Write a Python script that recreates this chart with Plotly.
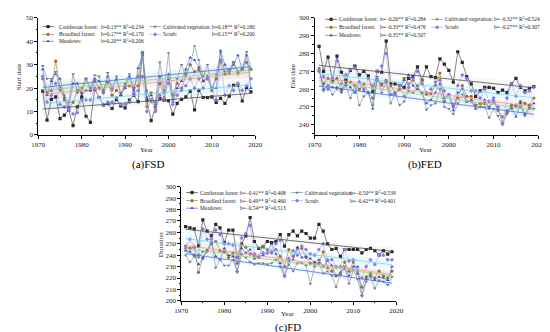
import numpy as np
import plotly.graph_objects as go

W, H = 550, 332
years = list(range(1971, 2020))
names = ["Coniferous forest", "Broadleaf forest", "Meadows", "Cultivated vegetation", "Scrub"]

# ---------------- (a) FSD: start date ----------------
fsd_conif = [18.7, 6.3, 15.2, 16.3, 7, 8.5, 10.7, 4, 12, 16, 8, 5.4, 19.5, 16, 12.8, 13.4, 11.3, 15.2, 12.4, 11.6,
             14.9, 17, 14.2, 35, 14.9, 6.1, 11.7, 15.6, 14.9, 14.6, 8.9, 13.5, 15.2, 16.3, 18.7, 10.7, 19, 16, 16, 16.3,
             13.9, 15.6, 13.5, 16.6, 21.2, 21.2, 14.5, 20.2, 18.4]
fsd_broad = [24, 18, 19, 31.5, 20, 15, 11, 14, 19, 18, 24, 19, 23, 20, 18, 22.5, 17, 19, 17, 21,
             21, 20, 21, 35, 12, 18, 11, 22, 16, 24, 17, 22, 19, 26, 30, 27, 28, 23, 24, 19,
             24, 32, 26, 27, 31, 27, 28, 31, 28]
fsd_mead = [28, 17, 23, 26, 24, 16, 12, 22, 22, 17, 19, 19, 24, 23, 19, 25, 20, 24, 17, 20,
            25, 19, 28.5, 34, 16, 17, 13, 25, 18, 26, 14, 20, 23, 28, 33, 32, 29, 23, 25, 20,
            20, 36, 30, 26, 30, 34, 28, 34, 20]
fsd_cult = [29.5, 24, 24, 27, 19, 17, 14, 26, 18, 20, 24, 20, 25.5, 25, 18, 26.5, 19, 25, 18, 22,
            26, 20, 25, 35.5, 19, 14, 14, 31, 19, 35, 15, 24, 30, 25, 30, 38, 32, 25, 30, 19,
            26, 35, 27, 28, 31, 26, 28, 35.5, 28]
fsd_scrub = [25, 14, 17, 22, 13, 12, 11, 9, 9.5, 15, 15, 15, 20, 16, 13, 14, 14, 16, 13, 13,
             14, 18, 19, 25, 10, 15, 10, 17, 15, 22, 13, 17, 20, 21, 24, 20, 24, 20, 24, 20,
             15, 31, 17, 21, 19, 22, 19, 21, 24]

# ---------------- (b) FED: end date ----------------
fed_conif = [284, 270, 278, 265, 278.5, 269.5, 265, 270.5, 273, 268, 270, 267.5, 258.5, 270, 269.5, 287, 263, 263, 262, 261,
             266, 267, 272.5, 265, 272.5, 267, 266.5, 277, 274, 270.5, 264, 281, 275, 267, 263, 256, 259, 261, 261, 260.5,
             258, 259.5, 258, 263, 266, 261, 259, 260.5, 261.5]
fed_broad = [270, 263, 266, 264, 266, 259, 264, 264, 262, 260, 263, 258, 255, 265, 263, 265, 262, 258, 260, 266,
             263, 265, 262, 265, 257, 257.5, 262, 269, 253, 257, 250, 255, 262, 256, 256, 251, 252, 252, 250, 253,
             248, 244.5, 247, 251, 251, 253, 252, 251, 255]
fed_mead = [271, 260, 262, 261, 261, 260, 263, 261, 258, 264, 259, 258, 249, 266, 262, 264, 257, 258, 260, 265,
            268, 262, 260, 258, 252, 254, 258, 263, 255, 257, 248, 258, 260, 253, 254, 249, 250, 254, 249, 254,
            249, 241, 248, 250, 244.5, 252, 246, 250, 252]
fed_cult = [272, 259, 262, 257, 260, 258, 262, 255, 262, 251, 256, 258, 251, 267, 258, 264, 252, 258, 251, 253,
            259, 258, 262, 258, 248.5, 251, 252, 260, 250, 249, 246, 252, 257, 253, 253, 249, 250, 250, 244, 249,
            245, 240, 246, 249, 250, 250, 245, 249, 249]
fed_scrub = [271, 267, 260, 266, 276, 263, 268, 271, 272, 264, 260, 266, 262, 270, 273, 280, 257, 257, 262, 256,
             261, 266, 270, 263, 258, 260, 264, 265, 259, 257, 251, 262, 268, 266, 259, 259, 255, 260, 253, 255,
             250, 241, 255, 263, 256, 262, 258, 259, 261]

# ---------------- (c) FD: duration ----------------
fd_conif = [265, 264, 263, 248, 271, 261, 257, 267, 264, 251, 262, 262, 238, 250, 257, 273, 252, 246, 247, 252,
            251, 252, 258, 248, 258, 261, 257, 261, 259, 255, 255, 267, 261, 250, 245, 246, 239, 245, 245, 245,
            245, 242, 245, 246, 244, 240, 244, 241, 243]
fd_broad = [248, 246, 247, 225, 238, 244, 250, 252, 244, 243, 238, 242, 233, 249, 247, 241, 240, 238, 248, 245,
            242, 245, 239, 230, 245, 239, 246, 246, 238, 233, 233, 233, 243, 229, 226, 222, 223, 234, 226, 234,
            224, 212, 221, 224, 220, 226, 222, 220, 226]
fd_mead = [244, 243, 240, 232, 237, 244, 251, 239, 236, 246, 240, 239, 226, 246, 242, 245, 237, 239, 240, 242,
           250, 241, 233, 222, 235, 236, 247, 238, 239, 237, 234, 236, 230, 235, 231, 222, 225, 228, 222, 230,
           230, 205, 219, 222, 218, 221, 220, 218, 230]
fd_cult = [240, 234, 239, 238, 243, 243, 252, 229, 236, 231, 231, 236, 225, 241, 238, 234, 232, 233, 233, 232,
           233, 236, 230, 221, 232, 226, 233, 233, 231, 215, 230, 233, 224, 226, 222, 212, 224, 230, 215, 227,
           219, 204, 217, 221, 211, 218, 217, 214, 221]
fd_scrub = [246, 254, 247, 240, 263, 254, 254, 262, 258, 250, 250, 249, 238, 255, 259, 266, 241, 239, 242, 242,
            243, 250, 253, 222, 237, 244, 240, 248, 245, 241, 240, 245, 250, 236, 236, 230, 230, 245, 235, 236,
            226, 220, 230, 236, 232, 240, 240, 236, 236]

stats_a = [("b=0.13**", "0.234"), ("b=0.17**", "0.170"), ("b=0.20**", "0.206"), ("b=0.18**", "0.180"), ("b=0.15**", "0.200")]
stats_b = [("b=\u22120.26**", "0.284"), ("b=\u22120.33**", "0.476"), ("b=\u22120.35**", "0.507"), ("b=\u22120.32**", "0.524"), ("b=\u22120.27**", "0.307")]
stats_c = [("b=\u22120.41**", "0.408"), ("b=\u22120.49**", "0.460"), ("b=\u22120.54**", "0.513"), ("b=\u22120.50**", "0.539"), ("b=\u22120.42**", "0.401")]

x_ticks = [1970, 1980, 1990, 2000, 2010, 2020]

# styles
line_cols = ["#505050", "#a88a50", "#5a7fe0", "#7f9aa8", "#b4b4f4"]
mark_cols = ["#2a2a2a", "#a8692a", "#2f4fd0", "#6a7f8a", "#8878f0"]
symbols = ["square", "circle", "triangle-up", "triangle-down", "diamond"]
trend_cols = ["#505050", "#f09a9a", "#8fd88f", "#5070e0", "#80d4e4"]
band_cols = ["rgba(200,200,200,0.12)", "rgba(255,180,200,0.22)", "rgba(170,235,170,0.22)",
             "rgba(180,205,255,0.18)", "rgba(160,235,245,0.22)"]

FONT = "Liberation Serif"
TXT = "#222"
LEGSIZE = 5.4

fig = go.Figure()

def px2x(p):
    return p / W

def px2y(p):
    return 1 - p / H

panels = [
    dict(series=[fsd_conif, fsd_broad, fsd_mead, fsd_cult, fsd_scrub], stats=stats_a,
         xd=(24, 247), yd=(6, 126), yr=[0, 50], yt=list(range(0, 51, 10)), ytitle="Start date",
         title="(a)FSD", tpos=(137, 156), xtpos=(136, 141), ytpos=(5, 66),
         leg=dict(rows=(15, 23, 30), lsym=28, lname=44, lb=87, rsym=138, rname=151, rb=202)),
    dict(series=[fed_conif, fed_broad, fed_mead, fed_cult, fed_scrub], stats=stats_b,
         xd=(308, 538), yd=(6, 126), yr=[234.3, 300], yt=list(range(240, 301, 10)), ytitle="End date",
         title="(b)FED", tpos=(421, 156), xtpos=(423, 141), ytpos=(286, 66),
         leg=dict(rows=(7.5, 15.7, 24), lsym=319, lname=332, lb=374, rsym=428, rname=441, rb=491)),
    dict(series=[fd_conif, fd_broad, fd_mead, fd_cult, fd_scrub], stats=stats_c,
         xd=(171, 392), yd=(179, 296), yr=[200, 300], yt=list(range(200, 301, 10)), ytitle="Duration",
         title="(c)FD", tpos=(281, 323), xtpos=(281, 309), ytpos=(150, 238),
         leg=dict(rows=(185, 193.3, 201), lsym=176, lname=189, lb=230, rsym=284, rname=297, rb=343)),
]

annotations = []
yrs = np.array(years, dtype=float)
for i, p in enumerate(panels):
    k = "" if i == 0 else str(i + 1)
    xa, ya = "x" + k, "y" + k
    # trends with confidence bands
    fits = []
    for j, s in enumerate(p["series"]):
        yv = np.array(s, dtype=float)
        b, a = np.polyfit(yrs, yv, 1)
        fit = a + b * yrs
        fits.append(fit)
        n = len(yrs)
        resid = yv - fit
        se = np.sqrt(np.sum(resid ** 2) / (n - 2))
        xm = yrs.mean()
        ci = 2.01 * se * np.sqrt(1 / n + (yrs - xm) ** 2 / np.sum((yrs - xm) ** 2))
        fig.add_trace(go.Scatter(x=list(yrs) + list(yrs[::-1]), y=list(fit + ci) + list((fit - ci)[::-1]),
                                 fill="toself", fillcolor=band_cols[j], line=dict(width=0),
                                 xaxis=xa, yaxis=ya, showlegend=False, hoverinfo="skip"))
    # data lines
    for j, s in enumerate(p["series"]):
        fig.add_trace(go.Scatter(x=years, y=s, mode="lines+markers", xaxis=xa, yaxis=ya,
                                 line=dict(color=line_cols[j], width=0.7),
                                 marker=dict(symbol=symbols[j], size=3.2, color=mark_cols[j]),
                                 showlegend=False, hoverinfo="skip"))
    for j, fit in enumerate(fits):
        fig.add_trace(go.Scatter(x=yrs, y=fit, mode="lines", xaxis=xa, yaxis=ya,
                                 line=dict(color=trend_cols[j], width=0.8),
                                 showlegend=False, hoverinfo="skip"))
    axis_common = dict(showline=True, linecolor="black", linewidth=0.8, ticks="outside", ticklen=3,
                       tickwidth=0.8, tickcolor="black", showgrid=False, zeroline=False,
                       tickfont=dict(family=FONT, size=7, color=TXT),
                       minor=dict(ticks="outside", ticklen=1.5, tickcolor="black", tickwidth=0.6))
    fig.update_layout(**{
        "xaxis" + k: dict(domain=[px2x(p["xd"][0]), px2x(p["xd"][1])], range=[1970, 2020],
                          tickvals=x_ticks, anchor=ya, **axis_common),
        "yaxis" + k: dict(domain=[px2y(p["yd"][1]), px2y(p["yd"][0])], range=p["yr"],
                          tickvals=p["yt"], anchor=xa, **axis_common),
    })
    annotations.append(dict(text=p["title"], x=px2x(p["tpos"][0]), y=px2y(p["tpos"][1]), xref="paper",
                            yref="paper", showarrow=False, xanchor="center", yanchor="middle",
                            font=dict(family=FONT, size=11, color="black")))
    annotations.append(dict(text="Year", x=px2x(p["xtpos"][0]), y=px2y(p["xtpos"][1]), xref="paper",
                            yref="paper", showarrow=False, xanchor="center", yanchor="middle",
                            font=dict(family=FONT, size=7, color=TXT)))
    annotations.append(dict(text=p["ytitle"], x=px2x(p["ytpos"][0]), y=px2y(p["ytpos"][1]), xref="paper",
                            yref="paper", showarrow=False, xanchor="center", yanchor="middle", textangle=-90,
                            font=dict(family=FONT, size=7, color=TXT)))
    # custom legend
    lg = p["leg"]
    slots = [(0, "l"), (1, "l"), (2, "l"), (0, "r"), (1, "r")]
    for j, (row, side) in enumerate(slots):
        yy = lg["rows"][row]
        sx = lg["lsym"] if side == "l" else lg["rsym"]
        nx = lg["lname"] if side == "l" else lg["rname"]
        bx = lg["lb"] if side == "l" else lg["rb"]
        fig.add_trace(go.Scatter(x=[sx, sx + 12], y=[yy, yy], mode="lines", xaxis="x4", yaxis="y4",
                                 line=dict(color=line_cols[j], width=0.8), showlegend=False, hoverinfo="skip"))
        fig.add_trace(go.Scatter(x=[sx + 6], y=[yy], mode="markers", xaxis="x4", yaxis="y4",
                                 marker=dict(symbol=symbols[j], size=3.2, color=mark_cols[j]),
                                 showlegend=False, hoverinfo="skip"))
        annotations.append(dict(text=names[j] + ":", x=px2x(nx), y=px2y(yy), xref="paper", yref="paper",
                                showarrow=False, xanchor="left", yanchor="middle", borderpad=0,
                                font=dict(family=FONT, size=LEGSIZE, color=TXT)))
        bs, r2 = p["stats"][j]
        annotations.append(dict(text=bs + " R<sup>2</sup>=" + r2, x=px2x(bx), y=px2y(yy), xref="paper",
                                yref="paper", showarrow=False, xanchor="left", yanchor="middle", borderpad=0,
                                font=dict(family=FONT, size=LEGSIZE, color=TXT)))

fig.update_layout(
    xaxis4=dict(domain=[0, 1], range=[0, W], visible=False, anchor="y4", fixedrange=True),
    yaxis4=dict(domain=[0, 1], range=[H, 0], visible=False, anchor="x4", fixedrange=True),
    width=W, height=H, margin=dict(l=0, r=0, t=0, b=0),
    paper_bgcolor="white", plot_bgcolor="rgba(0,0,0,0)",
    annotations=annotations, showlegend=False,
)

fig.write_html("out.html")
